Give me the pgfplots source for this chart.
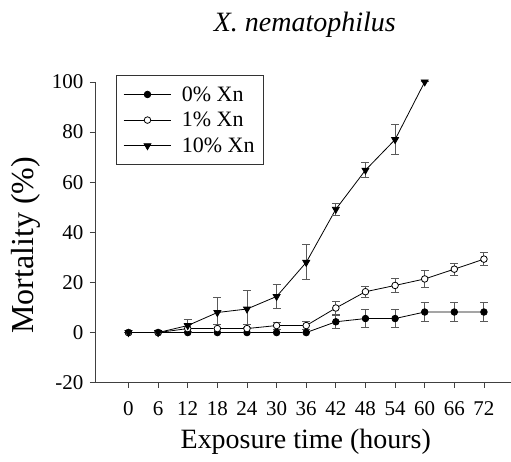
\documentclass[border=0pt]{standalone}
\usepackage{pgfplots}
\pgfplotsset{compat=1.18}
\usepackage{fontspec}
\setmainfont{Liberation Serif}
\begin{document}
\begin{tikzpicture}
\begin{axis}[
  scale only axis,
  width=416pt, height=301pt,
  xmin=-6.8, xmax=77.4,
  ymin=-20, ymax=100,
  axis x line=bottom, axis y line=left,
  axis line style={-, line width=0.8pt, black!75},
  xtick={0,6,...,72},
  ytick={-20,0,...,100},
  tick align=outside,
  major tick length=5pt,
  tick style={line width=0.8pt, black!75},
  /pgf/number format/assume math mode=true,
  ticklabel style={font=\fontsize{21}{24}\selectfont},
  xticklabel style={yshift=-10pt},
  yticklabel style={xshift=-3pt},
  xlabel={Exposure time (hours)},
  ylabel={Mortality (\%)},
  title={\textit{X. nematophilus}},
  xlabel style={at={(rel axis cs:0.5,0)}, anchor=center, yshift=-59pt, xshift=3pt, font=\fontsize{28}{32}\selectfont},
  ylabel style={at={(rel axis cs:0,0.5)}, anchor=center, rotate=0, yshift=69pt, xshift=-13pt, font=\fontsize{32}{36}\selectfont},
  title style={at={(rel axis cs:0.5,1)}, anchor=center, yshift=51pt, xshift=2pt, font=\fontsize{28}{32}\selectfont},
  legend style={at={(rel axis cs:0.05,1.023)}, anchor=north west, draw=black!80, line width=0.8pt,
    font=\fontsize{22}{25}\selectfont, inner xsep=7pt, inner ysep=9pt, row sep=5.5pt, cells={anchor=west}},
  legend cell align=left,
  legend image code/.code={\draw[mark repeat=2,mark phase=2,#1] plot coordinates {(0pt,0pt)(24pt,0pt)(48pt,0pt)};\path (56pt,0pt);},
  error bars/error bar style={line width=0.9pt, black!65},
  error bars/error mark options={rotate=90, mark size=4pt, line width=0.9pt, black!65},
]
\addplot+[black, line width=0.8pt, mark=*, mark size=3.3pt, mark options={fill=black, draw=black, solid},
  error bars/.cd, y dir=both, y explicit]
  table[x=x, y=y, y error=e] {
x y e
0 0 0
6 0 0
12 0 0
18 0 0
24 0 0
30 0 0
36 0 0
42 4.3 2.6
48 5.6 3.5
54 5.6 3.5
60 8.2 3.9
66 8.2 3.9
72 8.2 3.9
};
\addlegendentry{0\% Xn}
\addplot+[black, line width=0.8pt, mark=*, mark size=3.3pt, mark options={fill=white, draw=black, solid},
  error bars/.cd, y dir=both, y explicit]
  table[x=x, y=y, y error=e] {
x y e
0 0 0
6 0 0
12 1.6 1.6
18 1.6 1.6
24 1.6 1.6
30 2.8 1.4
36 2.8 1.5
42 9.8 2.5
48 16.3 2.2
54 18.8 2.6
60 21.4 3.4
66 25.3 2.4
72 29.3 2.6
};
\addlegendentry{1\% Xn}
\addplot+[black, line width=0.8pt, mark=triangle*, mark size=4pt, mark options={fill=black, draw=black, solid, rotate=180},
  error bars/.cd, y dir=both, y explicit]
  table[x=x, y=y, y error=e] {
x y e
0 0 0
6 0 0
12 2.8 2.5
18 8 6.2
24 9.4 7.4
30 14.4 4.8
36 28 7
42 49.2 2.3
48 64.8 3
54 77 6
60 100 0
};
\addlegendentry{10\% Xn}
\end{axis}
\path (current axis.south west) ++(-95pt,-79pt) coordinate (bbA);
\path (current axis.north east) ++(0pt,82pt) coordinate (bbB);
\useasboundingbox (bbA) rectangle (bbB);
\end{tikzpicture}
\end{document}
